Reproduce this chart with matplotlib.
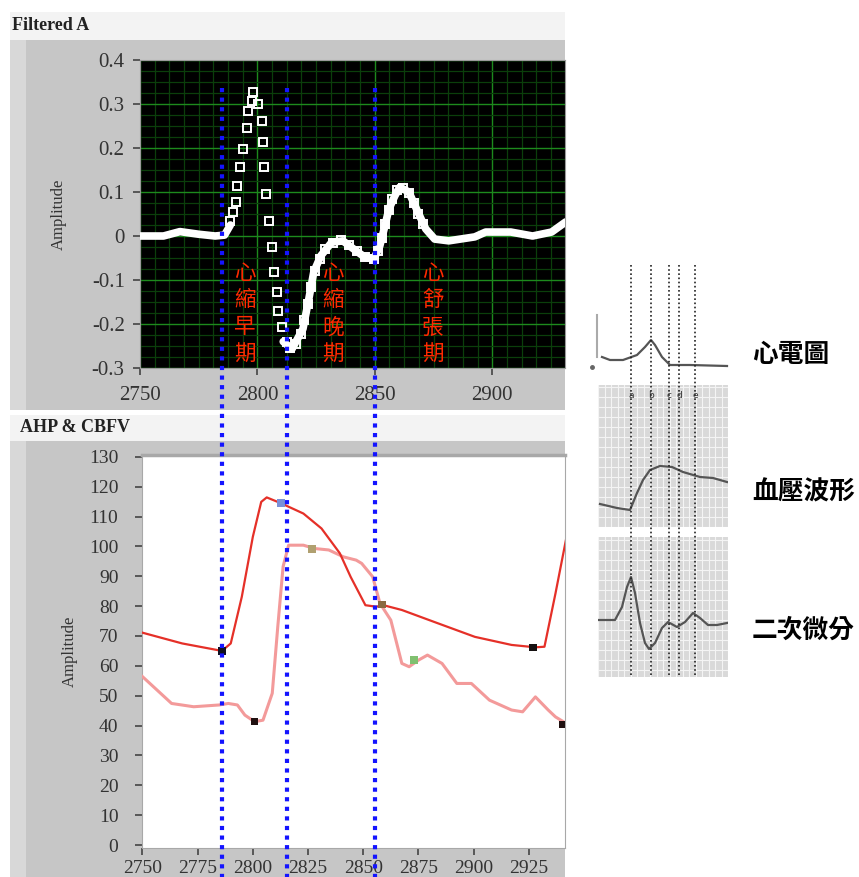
import matplotlib
matplotlib.use("Agg")
import numpy as np
import matplotlib.pyplot as plt
from matplotlib.patches import Rectangle
from matplotlib.lines import Line2D
from matplotlib.transforms import blended_transform_factory
from matplotlib.ticker import MultipleLocator, FuncFormatter

# ---------------- data ----------------
# Filtered A : thick trace (NaN = gap where only squares are drawn)
filt_x = [2750, 2760, 2767, 2775, 2782, 2786, 2788.5, np.nan,
          2811, 2814.7, 2819.4, 2821.9, 2824, 2827, 2831.7, 2836.4, 2841.1,
          2845.7, 2849.6, 2852.1, 2854.3, 2856, 2858.5, 2860.6, 2864.5,
          2868.3, 2871.7, 2875.5, 2881.5, 2892.6, 2897.2, 2907.9, 2917.2,
          2925.3, 2931.3]
filt_y = [0.0, 0.0, 0.01, 0.004, 0.0, 0.002, 0.025, np.nan,
          -0.24, -0.257, -0.211, -0.143, -0.082, -0.045, -0.014, -0.011, -0.03,
          -0.048, -0.052, -0.023, 0.023, 0.061, 0.091, 0.111, 0.1,
          0.055, 0.016, -0.007, -0.011, -0.002, 0.009, 0.009, 0.0,
          0.009, 0.032]

# Filtered A : open-square samples
sq_x = [2788.3, 2789.6, 2790.9, 2791.3, 2792.6, 2793.8, 2795.5, 2796.0, 2797.7, 2798.1,
        2800.2, 2801.9, 2802.3, 2802.8, 2803.6, 2804.9, 2806.2, 2807.0, 2808.3, 2808.7,
        2810.4, 2812.5,
        2814.0, 2816.5, 2818.5, 2820, 2821.5, 2823, 2824.5, 2826.5, 2829, 2832, 2835.5,
        2839, 2842.5, 2846, 2849.5, 2851.5, 2853, 2854.5, 2856, 2857.5, 2859.5, 2862,
        2864.5, 2866.5, 2868.5, 2870.5]
sq_y = [0.034, 0.055, 0.077, 0.114, 0.157, 0.198, 0.245, 0.284, 0.307, 0.327,
        0.300, 0.261, 0.214, 0.157, 0.095, 0.034, -0.025, -0.082, -0.127, -0.170,
        -0.207, -0.241,
        -0.255, -0.245, -0.222, -0.19, -0.155, -0.115, -0.08, -0.052, -0.03, -0.015, -0.01,
        -0.02, -0.035, -0.048, -0.052, -0.035, -0.005, 0.028, 0.06, 0.085, 0.105, 0.11,
        0.098, 0.075, 0.05, 0.028]

# phase boundaries (x of Filtered A) and phase labels
phase_x = [2785, 2812.6, 2850]
phase_names = ["心縮早期", "心縮晚期", "心舒張期"]
phase_label_x = [2794.7, 2832.1, 2874.7]

# AHP & CBFV
ahp_x = [2750, 2768, 2786, 2790, 2795, 2800, 2803.8, 2806.3, 2812.9, 2822.9, 2831.1,
         2839.4, 2844.3, 2851, 2855.9, 2859.2, 2867.5, 2884, 2900.6, 2917.2, 2928,
         2932.1, 2937.1, 2943]
ahp_y = [71.1, 67.5, 65.0, 67.5, 83.1, 103.2, 114.9, 116.4, 114.4, 111.0, 106.0,
         97.7, 89.8, 80.3, 79.8, 80.3, 78.7, 74.2, 69.7, 67.0, 66.2,
         66.4, 84.3, 106.6]
cbfv_x = [2750, 2756.6, 2763.2, 2773.2, 2784.8, 2788.9, 2793, 2796.4, 2800.8, 2804.6,
          2808.8, 2811.3, 2813.7, 2816.2, 2822.9, 2827.8, 2834.4, 2841, 2846.8, 2849.3,
          2854.3, 2857.6, 2862.5, 2867.5, 2870.8, 2875, 2879.1, 2885.7, 2892.4, 2899,
          2907.2, 2917.2, 2922.2, 2928, 2933.8, 2937.1, 2942]
cbfv_y = [56.4, 51.9, 47.4, 46.3, 46.9, 47.4, 46.9, 43.5, 41.3, 41.8,
          50.8, 73.1, 93.2, 100.4, 100.4, 99.3, 98.8, 96.5, 95.4, 94.3,
          89.8, 80.9, 75.3, 60.8, 59.7, 61.9, 63.6, 60.8, 54.1, 54.1,
          48.5, 45.2, 44.6, 49.6, 45.2, 42.9, 40.7]
mark_x = [2786, 2800.8, 2927, 2940.5, 2812.8, 2826.8, 2858.5, 2873]
mark_y = [65.0, 41.3, 66.2, 40.4, 114.5, 99.2, 80.5, 62.0]
mark_c = ["#101020", "#201010", "#151010", "#201010", "#7a90d8", "#b0a070", "#8a6a40", "#80c070"]

# reference sketch on the right (t = sample index, amplitude in arbitrary units)
ecg_t = [4, 12, 25, 39, 47, 53, 57, 64, 72, 92, 129]
ecg_a = [15, 12, 12, 17, 25, 32, 27, 15, 7, 7, 6]
bp_t = [2, 19, 32, 39, 45, 52, 62, 74, 85, 102, 115, 129]
bp_a = [23, 19, 17, 34, 47, 57, 61, 60, 55, 50, 49, 45]
d2_t = [0, 17, 24, 29, 33, 37, 42, 47, 51, 57, 64, 70, 79, 87, 95, 102, 110, 119, 129]
d2_a = [0, 0, 13, 33, 43, 27, -3, -23, -29, -23, -8, -2, -7, -2, 7, 2, -5, -5, -3]
mark_t = [33, 53, 71, 81, 97]
mark_names = ["a", "b", "c", "d", "e"]
sketch_names = ["心電圖", "血壓波形", "二次微分"]

# ---------------- figure ----------------
W, H = 859, 877
fig = plt.figure(figsize=(W / 100, H / 100), dpi=100)
serif = ["Liberation Serif", "DejaVu Serif"]
cjk = ["Noto Sans CJK TC", "DejaVu Sans"]


def box(x0, y0, x1, y1):
    return [x0 / W, 1 - y1 / H, (x1 - x0) / W, (y1 - y0) / H]


def bg(x0, y0, x1, y1, color):
    fig.add_artist(Rectangle((x0 / W, 1 - y1 / H), (x1 - x0) / W, (y1 - y0) / H,
                             transform=fig.transFigure, color=color, zorder=-5, lw=0))


# gray LabVIEW-like frames
bg(10, 12, 565, 40, "#f3f3f3")
bg(10, 40, 565, 410, "#c6c6c6")
bg(10, 40, 26, 410, "#d8d8d8")
bg(10, 415, 565, 441, "#f3f3f3")
bg(10, 441, 565, 877, "#c6c6c6")
bg(10, 441, 26, 877, "#d8d8d8")

fig.text(12 / W, 1 - 26 / H, "Filtered A", family=serif, fontsize=13, weight="bold",
         color="#222", va="center", ha="left")
fig.text(20 / W, 1 - 428 / H, "AHP & CBFV", family=serif, fontsize=13, weight="bold",
         color="#222", va="center", ha="left")

# ---- top: Filtered A ----
ax1 = fig.add_axes(box(140, 60, 565, 368))
ax1.set_facecolor("black")
ax1.set_xlim(2750, 2931)
ax1.set_ylim(-0.3, 0.4)
ax1.xaxis.set_major_locator(MultipleLocator(50))
ax1.xaxis.set_minor_locator(MultipleLocator(50 / 8))
ax1.yaxis.set_major_locator(MultipleLocator(0.1))
ax1.yaxis.set_minor_locator(MultipleLocator(0.025))
ax1.yaxis.set_major_formatter(FuncFormatter(lambda v, p: f"{round(v, 2):g}"))
ax1.grid(which="minor", color="#0b3f0b", lw=0.9)
ax1.grid(which="major", color="#1d8a1d", lw=1.0)
ax1.set_axisbelow(True)
ax1.tick_params(which="minor", length=0)
ax1.tick_params(which="major", length=5, width=1.2, color="#444", labelsize=15, labelcolor="#333")
ax1.tick_params(axis="y", pad=6)
ax1.tick_params(axis="x", pad=8)
for lab in ax1.get_xticklabels() + ax1.get_yticklabels():
    lab.set_family(serif)
for s in ax1.spines.values():
    s.set_color("#9a9a9a")
ax1.plot(filt_x, filt_y, color="white", lw=5.5, solid_capstyle="round", zorder=3)
ax1.plot(sq_x, sq_y, ls="none", marker="s", ms=6, mfc="none", mec="white", mew=1.4, zorder=4)
ax1.set_ylabel("Amplitude", family=serif, fontsize=12, color="#333", labelpad=18)
for name, lx in zip(phase_names, phase_label_x):
    ax1.text(lx, -0.177, "\n".join(name), family=cjk, fontsize=15.5, color="#ff2a00",
             ha="center", va="center", linespacing=1.3, zorder=6)

# ---- bottom: AHP & CBFV ----
ax2 = fig.add_axes(box(142, 455, 565, 848))
ax2.set_facecolor("white")
ax2.set_xlim(2749.8, 2941.4)
ax2.set_ylim(-1, 130.6)
ax2.xaxis.set_major_locator(MultipleLocator(25))
ax2.yaxis.set_major_locator(MultipleLocator(10))
ax2.tick_params(length=5, width=1.2, color="#444", labelsize=14, labelcolor="#333")
ax2.tick_params(axis="y", pad=12)
for lab in ax2.get_xticklabels() + ax2.get_yticklabels():
    lab.set_family(serif)
for k, s in ax2.spines.items():
    s.set_color("#a8a8a8")
ax2.spines["top"].set_linewidth(2.5)
ax2.plot(cbfv_x, cbfv_y, color="#f39a9a", lw=2.2, zorder=3)
ax2.plot(ahp_x, ahp_y, color="#e53028", lw=1.6, zorder=4)
ax2.scatter(mark_x, mark_y, marker="s", s=30, c=mark_c, zorder=5, linewidths=0)
ax2.set_ylabel("Amplitude", family=serif, fontsize=12, color="#333", labelpad=8)

# blue dotted phase boundaries crossing both panels
btr = blended_transform_factory(ax1.transData, fig.transFigure)
for px in phase_x:
    fig.add_artist(Line2D([px, px], [1 - 88 / H, 0], transform=btr, color="#1414ff",
                          lw=3.0, ls=(0, (1, 1.3)), dash_capstyle="butt", zorder=10))

# ---- right: reference sketch ----
ax_ecg = fig.add_axes(box(590, 262, 730, 380))
ax_ecg.set_xlim(-8, 132)
ax_ecg.set_ylim(-8, 110)
ax_ecg.axis("off")
ax_ecg.plot(ecg_t, ecg_a, color="#555", lw=1.6)
ax_ecg.plot([-1, -1], [15, 57], color="#aaa", lw=1.5)
ax_ecg.plot([-6], [5], marker="o", ms=2.5, color="#666")

sk_axes = []
for bx in [box(598, 385, 728, 527), box(598, 537, 728, 677)]:
    a = fig.add_axes(bx)
    a.set_facecolor("#d9d9d9")
    a.set_xlim(0, 130)
    a.xaxis.set_major_locator(MultipleLocator(6.5))
    a.yaxis.set_major_locator(MultipleLocator(10))
    a.grid(color="#f4f4f4", lw=0.8)
    a.tick_params(length=0, labelbottom=False, labelleft=False)
    for s in a.spines.values():
        s.set_visible(False)
    sk_axes.append(a)
ax_bp, ax_d2 = sk_axes
ax_bp.set_ylim(0, 142)
ax_d2.set_ylim(-57, 83)
ax_bp.plot(bp_t, bp_a, color="#555", lw=1.6)
ax_d2.plot(d2_t, d2_a, color="#555", lw=1.6)
for t, n in zip(mark_t, mark_names):
    ax_bp.text(t, 132, n, fontsize=6.5, color="#333", ha="center", va="center")

str_ = blended_transform_factory(ax_bp.transData, fig.transFigure)
for t in mark_t:
    fig.add_artist(Line2D([t, t], [1 - 265 / H, 1 - 677 / H], transform=str_, color="#222",
                          lw=1.2, ls=(0, (1, 1.5)), zorder=10))

for name, py in zip(sketch_names, [355, 492, 630]):
    fig.text(752 / W, 1 - py / H, name, family=cjk, fontsize=18.5, weight="bold",
             color="black", ha="left", va="center")

fig.savefig("out.png", dpi=100)
